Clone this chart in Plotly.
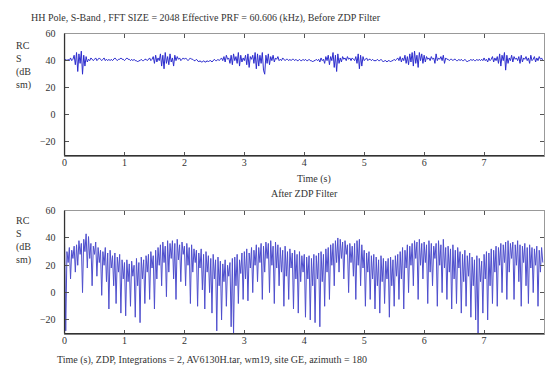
import plotly.graph_objects as go

DT = 0.02

before_zdp = [
    40, 41, 40, 41, 40, 42, 40, 41, 44, 37, 46, 32, 45, 38, 47, 30, 44, 36, 43, 39,
    41, 40, 42, 41, 40, 41, 42, 40, 41, 42, 41, 40, 41, 42, 40, 41, 40, 41, 40, 41,
    40, 41, 42, 41, 40, 41, 41, 42, 41, 41, 40, 41, 42, 41, 41, 40, 41, 40, 41, 40,
    40, 39, 40, 40, 41, 40, 40, 41, 41, 40, 41, 42, 40, 41, 43, 38, 44, 39, 42, 40,
    45, 36, 44, 34, 46, 38, 43, 37, 45, 39, 42, 36, 44, 40, 43, 41, 42, 40, 41, 42,
    41, 42, 41, 40, 41, 42, 41, 41, 40, 40, 41, 40, 39, 40, 39, 39, 40, 39, 39, 40,
    39, 40, 40, 39, 40, 41, 40, 40, 41, 40, 41, 42, 40, 43, 39, 44, 41, 42, 38, 44,
    37, 45, 40, 43, 38, 46, 36, 44, 39, 42, 40, 44, 37, 45, 35, 43, 41, 44, 38, 46,
    34, 45, 36, 44, 38, 46, 33, 30, 44, 38, 45, 37, 43, 40, 44, 39, 42, 41, 43, 40,
    41, 40, 42, 41, 40, 41, 41, 40, 41, 40, 41, 41, 40, 41, 40, 40, 41, 40, 40, 41,
    40, 41, 40, 40, 41, 40, 40, 39, 40, 40, 41, 40, 41, 39, 42, 40, 41, 38, 43, 40,
    44, 37, 43, 40, 46, 35, 44, 32, 45, 38, 42, 39, 43, 41, 42, 40, 43, 41, 42, 40,
    42, 41, 40, 43, 38, 45, 34, 44, 36, 43, 40, 41, 42, 40, 41, 41, 40, 41, 40, 40,
    40, 41, 40, 40, 41, 40, 39, 40, 40, 39, 40, 40, 39, 40, 40, 41, 40, 41, 42, 40,
    43, 39, 42, 40, 44, 38, 43, 37, 45, 39, 46, 36, 47, 38, 44, 35, 46, 40, 45, 38,
    44, 39, 43, 41, 42, 40, 43, 41, 42, 38, 45, 40, 42, 41, 43, 40, 44, 38, 42, 41,
    41, 40, 41, 41, 40, 41, 41, 40, 40, 41, 40, 41, 40, 40, 41, 40, 39, 40, 40, 41,
    40, 41, 40, 40, 41, 40, 41, 40, 41, 40, 42, 40, 41, 39, 42, 40, 41, 43, 39, 42,
    40, 43, 38, 45, 36, 44, 40, 46, 33, 44, 38, 42, 40, 44, 39, 43, 41, 42, 40, 43,
    38, 44, 39, 42, 41, 43, 40, 42, 38, 44, 40, 41, 43, 39, 42, 40, 43, 41, 42, 40,
]

after_zdp = [
    36, -28, 30, 22, 33, 10, 31, 25, 34, 15,
    35, 20, 38, 28, 36, 0, 39, 30, 43, 18,
    41, 25, 36, 5, 34, 28, 37, 12, 33, 22,
    31, -2, 30, 20, 33, 8, 29, -12, 31, 18,
    27, 5, 29, -8, 26, 15, 28, -15, 24, 10,
    22, -17, 24, 8, 21, -10, 23, 12, 20, -18,
    25, 5, 22, -22, 26, 10, 24, -8, 27, 15,
    28, -5, 30, 18, 27, -12, 31, 10, 33, 20,
    35, 5, 37, 22, 34, -3, 38, 15, 36, 25,
    38, 10, 36, -5, 39, 24, 35, 8, 37, 28,
    34, 5, 36, 20, 33, -8, 35, 15, 32, 22,
    31, -10, 29, 18, 32, 2, 28, -12, 30, 15,
    27, 0, 25, -15, 28, 10, 24, -28, 26, 5,
    23, -20, 21, 8, 24, -10, 20, 12, 22, -25,
    25, -30, 26, 5, 28, -8, 24, 14, 29, -5,
    30, 10, 32, -6, 29, 18, 33, 0, 31, 20,
    35, 8, 33, 22, 36, -5, 34, 15, 37, 25,
    36, 0, 38, 20, 34, -8, 37, 18, 35, 5,
    33, 15, 31, -10, 34, 12, 30, -5, 32, 18,
    29, -12, 31, 10, 28, -15, 30, 8, 27, 15,
    28, -18, 26, 10, 27, -20, 25, 5, 28, -22,
    27, 10, 29, -25, 30, 8, 28, -10, 32, 15,
    33, -5, 35, 20, 36, 5, 38, 22, 40, 15,
    39, 25, 37, 10, 38, 28, 35, 0, 36, 22,
    34, 12, 36, -5, 38, 20, 39, 5, 35, 18,
    31, -10, 29, 15, 30, -5, 27, 10, 28, -12,
    26, 5, 24, -15, 27, 8, 25, -8, 23, 10,
    25, -18, 26, 5, 24, -10, 27, 12, 28, -5,
    30, 10, 33, -12, 31, 18, 35, 0, 34, 20,
    36, 5, 38, 25, 37, -5, 39, 20, 36, 10,
    37, 22, 35, -8, 38, 15, 36, 5, 34, 25,
    36, -10, 38, 20, 35, 0, 39, 18, 33, -5,
    34, 15, 32, -12, 35, 10, 31, -8, 33, 18,
    30, -15, 28, 8, 31, -10, 27, 12, 29, -18,
    26, 5, 24, -20, 27, -30, 25, 8, 23, -15,
    28, 10, 30, -20, 29, 5, 32, -8, 31, 15,
    34, -10, 33, 20, 36, 0, 35, 22, 37, -5,
    38, 15, 36, 25, 37, -5, 35, 20, 38, 8,
    35, -10, 34, 22, 36, 5, 33, -8, 35, 18,
    33, 0, 32, 20, 34, -10, 31, 15, 33, 22,
]

x_ticks = [0, 1, 2, 3, 4, 5, 6, 7]
y_ticks = [-20, 0, 20, 40, 60]

title_top = "HH Pole, S-Band , FFT SIZE = 2048 Effective PRF = 60.606 (kHz), Before ZDP Filter"
title_mid = "After ZDP Filter"
xlabel_top = "Time (s)"
caption = "Time (s), ZDP, Integrations = 2, AV6130H.tar, wm19, site GE, azimuth = 180"
ylabel = "RC<br>S<br>(dB<br>sm)"

t1 = [i * DT for i in range(len(before_zdp))]
t2 = [i * DT for i in range(len(after_zdp))]

W, H = 545, 370
FONT = "Liberation Serif"
TXT = "#333333"

fig = go.Figure()
fig.add_trace(go.Scatter(x=t1, y=before_zdp, mode="lines", xaxis="x", yaxis="y",
                         line=dict(color="rgb(45,45,205)", width=1), showlegend=False))
fig.add_trace(go.Scatter(x=t2, y=after_zdp, mode="lines", xaxis="x2", yaxis="y2",
                         line=dict(color="rgb(60,60,200)", width=1), opacity=0.9,
                         showlegend=False))

xd = [62 / W, 1.0]
yd1 = [1 - 152 / H, 1 - 28 / H]
yd2 = [1 - 333 / H, 1 - 208 / H]

common_x = dict(range=[0, 8], tickvals=x_ticks, ticks="inside", ticklen=4,
                tickcolor="#555", showline=True, linecolor="#999", mirror="ticks",
                showgrid=False, zeroline=False, domain=xd, ticklabelstandoff=-3,
                tickfont=dict(family=FONT, size=10, color=TXT))
common_y = dict(range=[-30, 60], tickvals=y_ticks, ticks="inside", ticklen=4,
                tickcolor="#555", showline=True, linecolor="#999", mirror="ticks",
                showgrid=False, zeroline=False, ticklabelstandoff=6,
                tickfont=dict(family=FONT, size=10, color=TXT))

fig.update_layout(
    width=W, height=H, margin=dict(l=0, r=0, t=0, b=0),
    paper_bgcolor="white", plot_bgcolor="white",
    xaxis=dict(anchor="y", **common_x),
    yaxis=dict(anchor="x", domain=yd1, **common_y),
    xaxis2=dict(anchor="y2", **common_x),
    yaxis2=dict(anchor="x2", domain=yd2, **common_y),
)

# darker left/bottom axis lines
for xr, yr in (("x domain", "y domain"), ("x2 domain", "y2 domain")):
    fig.add_shape(type="line", xref=xr, yref=yr, x0=0, x1=1, y0=0, y1=0,
                  line=dict(color="#333", width=1.3))
    fig.add_shape(type="line", xref=xr, yref=yr, x0=0, x1=0, y0=0, y1=1,
                  line=dict(color="#333", width=1.3))


def ann(text, px, py, xanchor="left", yanchor="middle", align="left"):
    fig.add_annotation(text=text, x=px / W, y=1 - py / H, xref="paper", yref="paper",
                       xanchor=xanchor, yanchor=yanchor, align=align, showarrow=False,
                       font=dict(family=FONT, size=10, color=TXT))


ann(title_top, 26, 12)
ann(xlabel_top, 313, 176, xanchor="center")
ann(title_mid, 304, 191, xanchor="center")
ann(caption, 52, 360)
ann(ylabel, 11, 60)
ann(ylabel, 11, 238)

fig.write_html("out.html")
